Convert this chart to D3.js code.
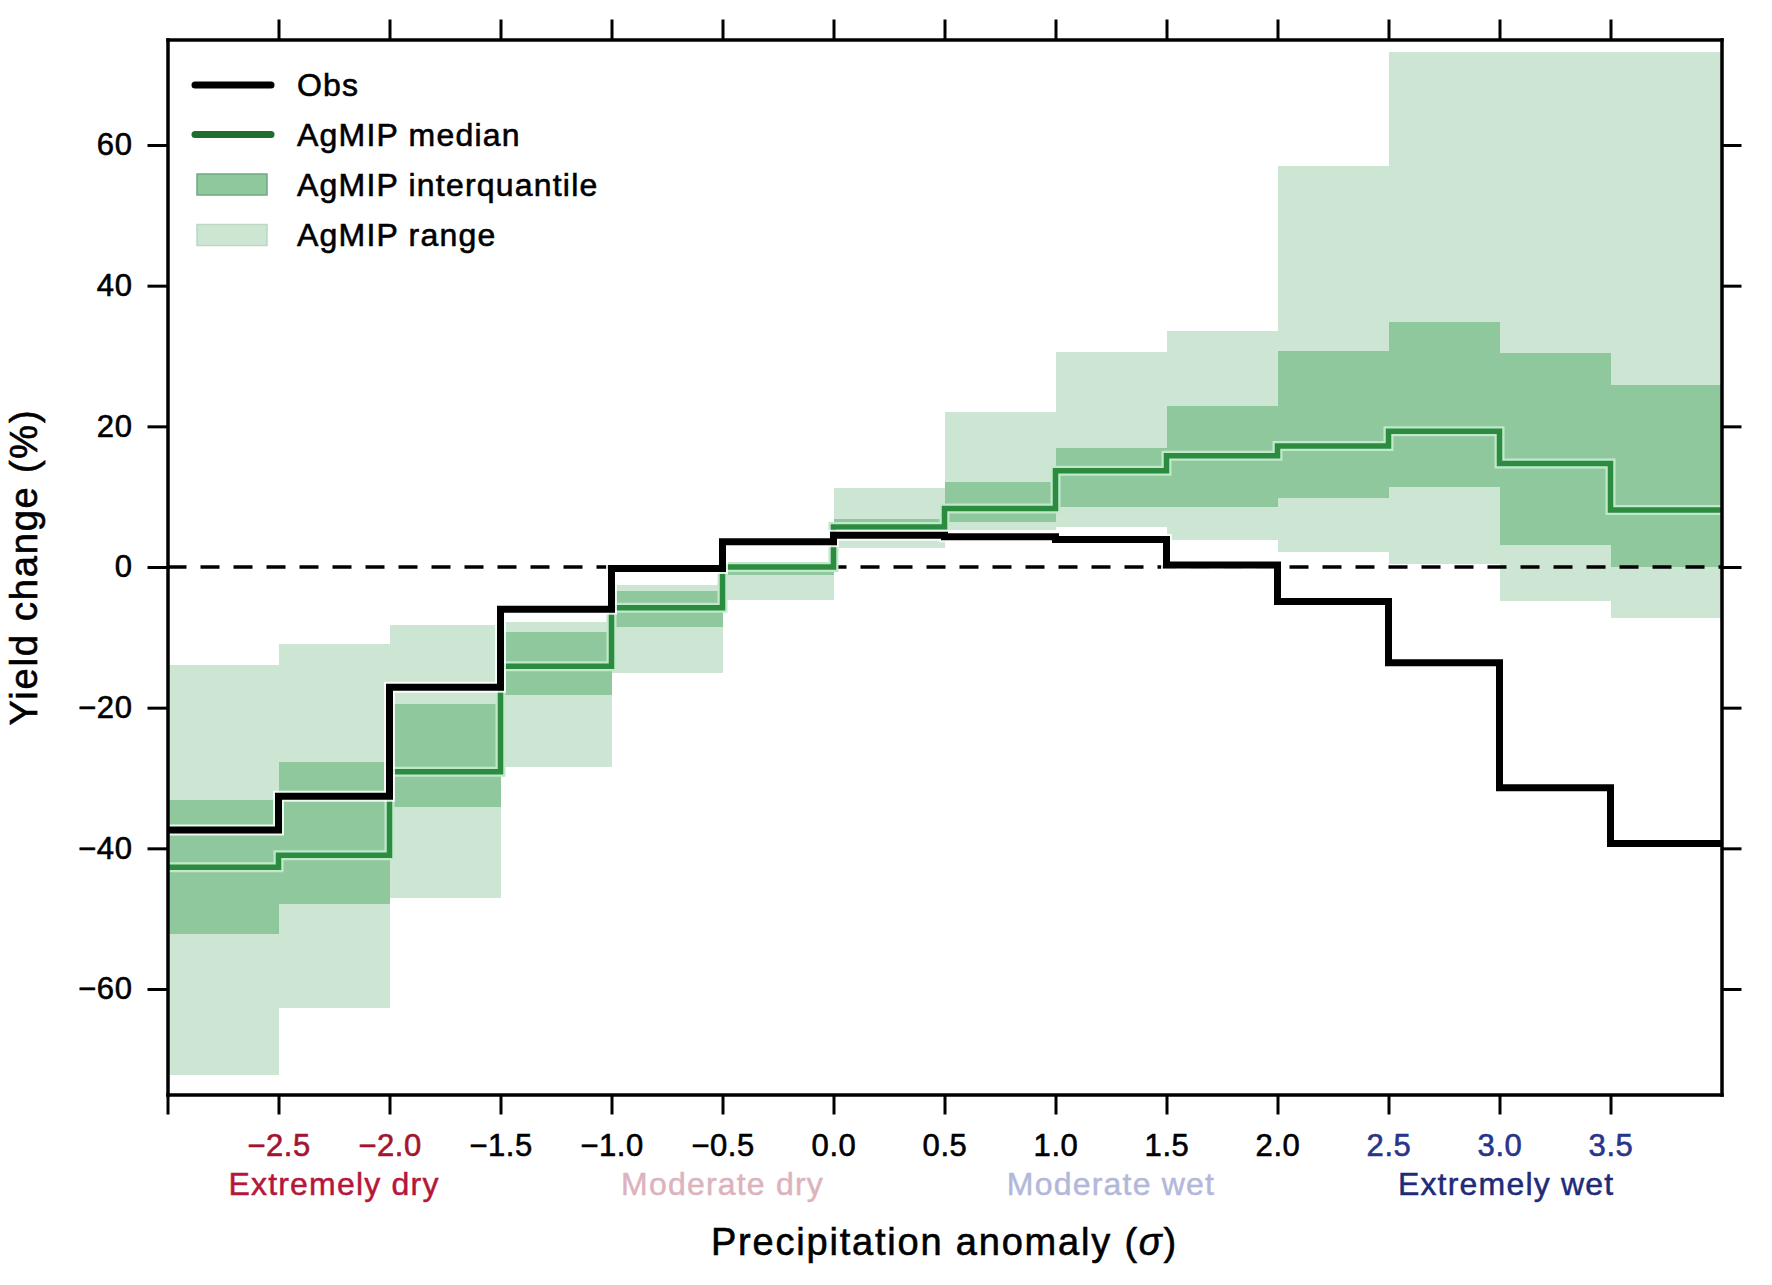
<!DOCTYPE html>
<html><head><meta charset="utf-8">
<script src="https://cdn.jsdelivr.net/npm/d3@7"></script>
<style>body{margin:0;background:#fff}svg{display:block}</style>
</head><body>
<svg id="chart" width="1772" height="1285"></svg>
<script>
// ---- data ----
const binLeft = [-3, -2.5, -2, -1.5, -1, -0.5, 0, 0.5, 1, 1.5, 2, 2.5, 3, 3.5];
const binWidth = 0.5;
const obs       = [-37.4, -32.6, -17.1, -6.0, -0.2, 3.6, 4.5, 4.3, 3.9, 0.3, -4.9, -13.6, -31.4, -39.3];
const median    = [-42.7, -41.0, -29.1, -14.1, -5.8, 0.0, 5.7, 8.3, 13.7, 15.8, 17.2, 19.3, 14.7, 8.1];
const iqrLow    = [-52.2, -47.9, -34.1, -18.2, -8.5, -1.2, 5.0, 6.4, 8.6, 8.6, 9.8, 11.4, 3.1, 0.0];
const iqrHigh   = [-33.1, -27.7, -19.5, -9.2, -3.4, 0.4, 6.8, 12.1, 16.9, 22.9, 30.7, 34.8, 30.4, 25.9];
const rangeLow  = [-72.2, -62.7, -47.0, -28.5, -15.1, -4.7, 2.7, 5.3, 5.7, 3.8, 2.2, 0.4, -4.9, -7.3];
const rangeHigh = [-13.9, -11.0, -8.2, -7.8, -2.6, 0.6, 11.2, 22.1, 30.6, 33.6, 57.0, 73.2, 73.2, 73.2];

const yTickValues = [-60, -40, -20, 0, 20, 40, 60];
const xTickValues = [-3, -2.5, -2, -1.5, -1, -0.5, 0, 0.5, 1, 1.5, 2, 2.5, 3, 3.5];
const xLabelValues = [-2.5, -2, -1.5, -1, -0.5, 0, 0.5, 1, 1.5, 2, 2.5, 3, 3.5];
const dryTickValues = [-2.5, -2];
const wetTickValues = [2.5, 3, 3.5];
const categoryNames = ["Extremely dry", "Moderate dry", "Moderate wet", "Extremely wet"];
const categoryCenters = [-2.25, -0.5, 1.25, 3.03];
const categoryColors = ["#b5173a", "#dcb3bd", "#b3b8da", "#1d2b78"];
const legendLabels = ["Obs", "AgMIP median", "AgMIP interquantile", "AgMIP range"];

// ---- styles ----
const FONT = "'Liberation Sans', Arial, Helvetica, sans-serif";
const C_RANGE = "#cce6d3", C_IQR = "#8fc89d", C_MED = "#2b8c40", C_MED_HALO = "#c2e8cb";
const C_DRY_TICK = "#a3142f", C_WET_TICK = "#27358a";

const svg = d3.select("#chart");
const L = 167.5, R = 1721.5, T = 39.5, B = 1094.5;
const x = d3.scaleLinear().domain([-3, 4]).range([L, R]);
const y = d3.scaleLinear().domain([-75, 75]).range([B, T]);

const bins = binLeft.map((b, i) => ({
  x0: b, x1: b + binWidth, obs: obs[i], med: median[i],
  qlo: iqrLow[i], qhi: iqrHigh[i], rlo: rangeLow[i], rhi: rangeHigh[i]
}));

// range rects
svg.append("g").attr("shape-rendering", "crispEdges").selectAll("rect").data(bins).join("rect")
  .attr("x", d => x(d.x0)).attr("width", d => x(d.x1) - x(d.x0) + 0.5)
  .attr("y", d => y(d.rhi)).attr("height", d => y(d.rlo) - y(d.rhi))
  .attr("fill", C_RANGE);
// iqr rects
svg.append("g").attr("shape-rendering", "crispEdges").selectAll("rect").data(bins).join("rect")
  .attr("x", d => x(d.x0)).attr("width", d => x(d.x1) - x(d.x0) + 0.5)
  .attr("y", d => y(d.qhi)).attr("height", d => y(d.qlo) - y(d.qhi))
  .attr("fill", C_IQR);

// zero dashed line
svg.append("line")
  .attr("x1", x(-3)).attr("x2", x(4)).attr("y1", y(0)).attr("y2", y(0))
  .attr("stroke", "#000").attr("stroke-width", 3.5).attr("stroke-dasharray", "19,14");

// step lines
const stepPts = key => bins.map(d => [d.x0, d[key]]).concat([[bins[bins.length-1].x1, bins[bins.length-1][key]]]);
const line = d3.line().x(d => x(d[0])).y(d => y(d[1])).curve(d3.curveStepAfter);

svg.append("path").attr("d", line(stepPts("med"))).attr("fill", "none")
  .attr("stroke", C_MED_HALO).attr("stroke-width", 10);
svg.append("path").attr("d", line(stepPts("med"))).attr("fill", "none")
  .attr("stroke", C_MED).attr("stroke-width", 5.5);
svg.append("path").attr("d", line(stepPts("obs"))).attr("fill", "none")
  .attr("stroke", "#fff").attr("stroke-width", 11).attr("stroke-opacity", 0.85);
svg.append("path").attr("d", line(stepPts("obs"))).attr("fill", "none")
  .attr("stroke", "#000").attr("stroke-width", 7);

// ---- axes ----
const fmtX = d3.format(".1f");
function styleAxis(g) {
  g.select(".domain").attr("stroke-width", 3.5).attr("stroke-linecap", "square");
  g.selectAll(".tick line").attr("stroke-width", 3);
  g.attr("font-family", FONT).attr("font-size", 31);
  g.selectAll(".tick text").attr("fill", "#000").attr("letter-spacing", "0.6px")
    .attr("stroke", "#000").attr("stroke-width", 0.6);
}
const gB = svg.append("g").attr("transform", `translate(0,${B})`)
  .call(d3.axisBottom(x).tickValues(xTickValues).tickSize(20).tickSizeOuter(0).tickPadding(19)
    .tickFormat(d => xLabelValues.includes(d) ? fmtX(d) : ""));
styleAxis(gB);
gB.selectAll(".tick text").each(function(d) {
  const c = dryTickValues.includes(d) ? C_DRY_TICK : wetTickValues.includes(d) ? C_WET_TICK : "#000";
  d3.select(this).attr("fill", c).attr("stroke", c);
});

const gT = svg.append("g").attr("transform", `translate(0,${T})`)
  .call(d3.axisTop(x).tickValues(xLabelValues).tickSize(20).tickSizeOuter(0).tickFormat(""));
styleAxis(gT);
const gL = svg.append("g").attr("transform", `translate(${L},0)`)
  .call(d3.axisLeft(y).tickValues(yTickValues).tickSize(20).tickSizeOuter(0).tickPadding(15));
styleAxis(gL);
const gR = svg.append("g").attr("transform", `translate(${R},0)`)
  .call(d3.axisRight(y).tickValues(yTickValues).tickSize(20).tickSizeOuter(0).tickFormat(""));
styleAxis(gR);

// category labels
svg.append("g").selectAll("text").data(categoryNames).join("text")
  .attr("x", (d, i) => x(categoryCenters[i])).attr("y", 1195)
  .attr("text-anchor", "middle").attr("font-family", FONT).attr("font-size", 32)
  .attr("letter-spacing", "1.2px")
  .attr("fill", (d, i) => categoryColors[i])
  .attr("stroke", (d, i) => categoryColors[i]).attr("stroke-width", 0.5)
  .text(d => d);

// axis titles
const xt = svg.append("text").attr("x", (L + R) / 2).attr("y", 1255).attr("text-anchor", "middle")
  .attr("font-family", FONT).attr("font-size", 38).attr("letter-spacing", "1.8px")
  .attr("stroke", "#000").attr("stroke-width", 0.6);
xt.append("tspan").text("Precipitation anomaly (");
xt.append("tspan").attr("font-style", "italic").text("σ");
xt.append("tspan").text(")");
svg.append("text").attr("transform", `translate(37,${y(0)}) rotate(-90)`)
  .attr("text-anchor", "middle").attr("font-family", FONT).attr("font-size", 38)
  .attr("letter-spacing", "1.8px").attr("stroke", "#000").attr("stroke-width", 0.6)
  .text("Yield change (%)");

// ---- legend ----
const lg = svg.append("g");
const rowY = [85, 134.5, 184.5, 235];
lg.append("line").attr("x1", 195).attr("x2", 271).attr("y1", rowY[0]).attr("y2", rowY[0])
  .attr("stroke", "#000").attr("stroke-width", 7).attr("stroke-linecap", "round");
lg.append("line").attr("x1", 195).attr("x2", 271).attr("y1", rowY[1]).attr("y2", rowY[1])
  .attr("stroke", "#1f6e2e").attr("stroke-width", 7).attr("stroke-linecap", "round");
lg.append("rect").attr("x", 197).attr("y", rowY[2] - 10.5).attr("width", 70).attr("height", 21)
  .attr("fill", C_IQR).attr("stroke", "#6fa97f").attr("stroke-width", 1.5);
lg.append("rect").attr("x", 197).attr("y", rowY[3] - 10.5).attr("width", 70).attr("height", 21)
  .attr("fill", C_RANGE).attr("stroke", "#b9d9c1").attr("stroke-width", 1.5);
lg.selectAll("text.lbl").data(legendLabels).join("text").attr("class", "lbl")
  .attr("x", 297).attr("y", (d, i) => rowY[i] + 11)
  .attr("font-family", FONT).attr("font-size", 32).attr("letter-spacing", "1.2px")
  .attr("stroke", "#000").attr("stroke-width", 0.6)
  .text(d => d);
</script>
</body></html>
